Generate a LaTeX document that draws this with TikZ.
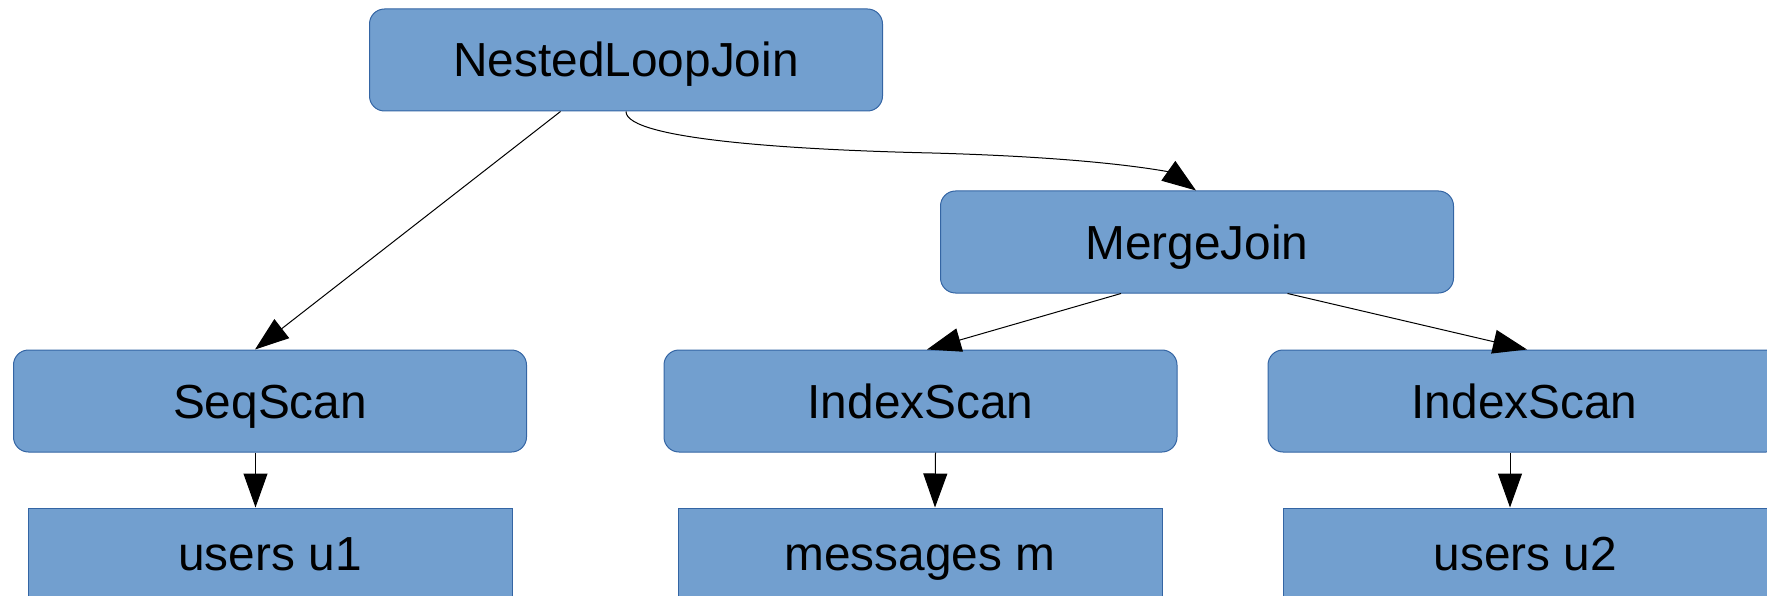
\documentclass[tikz,border=0pt]{standalone}
\usepackage{fontspec}
\setmainfont{Liberation Sans}
\usetikzlibrary{arrows.meta}
\definecolor{opfill}{HTML}{729FCF}
\definecolor{opline}{HTML}{3465A4}
\begin{document}
\begin{tikzpicture}[x=1pt,y=-1pt,
  boxtext/.style={font=\fontsize{47.8}{57}\selectfont, inner sep=0pt},
  opnode/.style={boxtext, draw=opline, line width=1pt, fill=opfill, rounded corners=15pt,
    minimum width=513pt, minimum height=102pt, text height=34pt, text depth=0pt},
  relnode/.style={boxtext, draw=opline, line width=1pt, fill=opfill,
    minimum width=484pt, minimum height=102pt, text height=34pt, text depth=12pt},
  flow/.style={draw=black, line width=1pt, -{Triangle[length=34pt,width=24pt]}}]
\useasboundingbox (0,0) rectangle (1767,596);

% plan operators
\node[opnode] (nlj) at (626,60) {NestedLoopJoin};
\node[opnode] (mj)  at (1197,242) {MergeJoin};
\node[opnode] (seq) at (270,401) {SeqScan};
\node[opnode] (is1) at (920.5,401) {IndexScan};
\node[opnode] (is2) at (1524.5,401) {IndexScan};

% base relations
\node[relnode] (u1)  at (270,559) {users u1};
\node[relnode] (msg) at (920,559) {messages m};
\node[relnode] (u2)  at (1525.5,559) {users u2};

% edges
\draw[flow] ([xshift=-65.5pt]nlj.south) -- ([xshift=-15pt]seq.north);
% curved edge: spline up to the arrow base, then the head on its own
\coordinate (mjin) at (1170,172);
\draw[line width=1pt] (nlj.south) .. controls (626,140) and (800,150) .. (932,153)
            .. controls (1040,156) and (1120,163) .. (mjin);
\draw[flow] (mjin) -- ([xshift=-1pt]mj.north);
\draw[flow] ([xshift=-76pt]mj.south) -- ([xshift=6.5pt]is1.north);
\draw[flow] ([xshift=90.5pt]mj.south) -- ([xshift=2.5pt]is2.north);
\draw[flow] ([xshift=-14.5pt]seq.south) -- ([xshift=-14.5pt]u1.north);
\draw[flow] ([xshift=15pt]is1.south) -- ([xshift=15pt]msg.north);
\draw[flow] ([xshift=-14.5pt]is2.south) -- ([xshift=-15.5pt]u2.north);
\end{tikzpicture}
\end{document}
